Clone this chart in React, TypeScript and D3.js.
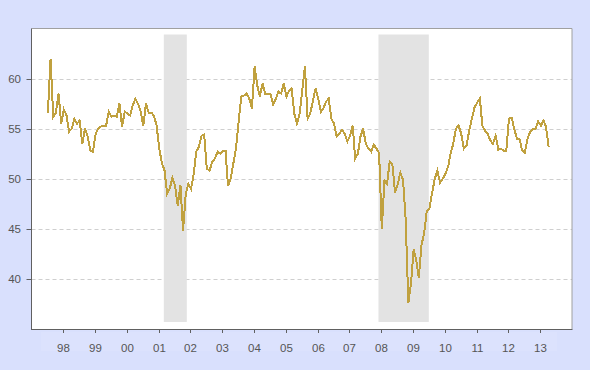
import React from 'react';
import * as d3 from 'd3';

// Monthly index values, starting July 1997
const v1997 = [56.6, 62.0, 56.2, 56.6, 58.5, 55.5];
const v1998 = [56.9, 56.3, 54.7, 55.0, 56.0, 55.5, 55.8, 53.5, 55.0, 54.2, 52.8, 52.7];
const v1999 = [54.5, 55.0, 55.2, 55.3, 55.3, 56.7, 56.2, 56.3, 56.2, 57.5, 55.2, 56.7];
const v2000 = [56.5, 56.3, 57.3, 58.0, 57.5, 56.7, 55.3, 57.5, 56.6, 56.6, 56.3, 55.3];
const v2001 = [53.0, 51.5, 50.9, 48.5, 49.0, 50.1, 49.3, 47.3, 49.4, 44.8, 48.5, 49.5];
const v2002 = [49.0, 50.5, 52.7, 53.2, 54.3, 54.4, 51.0, 50.8, 51.7, 52.0, 52.7, 52.5];
const v2003 = [52.8, 52.8, 49.3, 50.0, 51.5, 53.0, 55.7, 58.2, 58.3, 58.5, 58.0, 57.0];
const v2004 = [61.2, 59.3, 58.2, 59.5, 58.5, 58.5, 58.5, 57.4, 58.0, 58.7, 58.5, 59.5];
const v2005 = [58.2, 58.8, 59.0, 56.5, 55.5, 56.5, 58.8, 61.2, 56.0, 56.5, 57.8, 59.0];
const v2006 = [58.0, 56.7, 57.0, 57.7, 58.0, 56.0, 55.5, 54.2, 54.5, 54.9, 54.5, 53.7];
const v2007 = [54.3, 55.3, 52.0, 52.5, 54.2, 55.0, 53.5, 53.0, 52.7, 53.4, 53.0, 52.6];
const v2008 = [45.0, 49.8, 49.5, 51.7, 51.5, 48.6, 49.4, 50.6, 49.9, 46.0, 37.6, 39.5];
const v2009 = [43.0, 41.8, 40.1, 43.4, 44.5, 46.8, 47.0, 48.6, 50.0, 50.8, 49.6, 50.0];
const v2010 = [50.5, 51.2, 52.5, 53.5, 55.0, 55.3, 54.5, 53.0, 53.3, 54.8, 56.0, 57.1];
const v2011 = [57.6, 58.0, 55.3, 54.8, 54.5, 53.8, 53.5, 54.3, 52.9, 53.0, 52.8, 52.8];
const v2012 = [56.0, 56.1, 55.0, 54.0, 54.0, 52.8, 52.6, 54.0, 54.7, 55.0, 55.0, 55.7];
const v2013 = [55.3, 55.8, 55.2, 53.2];

const values = [
  ...v1997, ...v1998, ...v1999, ...v2000, ...v2001, ...v2002, ...v2003, ...v2004,
  ...v2005, ...v2006, ...v2007, ...v2008, ...v2009, ...v2010, ...v2011, ...v2012, ...v2013,
];

const tickYears = [1998, 1999, 2000, 2001, 2002, 2003, 2004, 2005, 2006, 2007, 2008, 2009, 2010, 2011, 2012, 2013];
const tickLabels = ['98', '99', '00', '01', '02', '03', '04', '05', '06', '07', '08', '09', '10', '11', '12', '13'];
const yTicks = [40, 45, 50, 55, 60];

const recessions: [Date, Date][] = [
  [new Date(2001, 2, 1), new Date(2001, 10, 20)],
  [new Date(2007, 11, 1), new Date(2009, 6, 1)],
];

const W = 590;
const H = 370;
const L = 31.5, R = 572, T = 28.5, B = 329;

export default function App() {
  const x = d3.scaleTime().domain([new Date(1997, 0, 1), new Date(2014, 0, 1)]).range([L, R]);
  const y = d3.scaleLinear().domain([35, 65]).range([B, T]);

  const data = values.map((v, i) => ({ d: new Date(1997, 6 + i, 8), v }));
  const line = d3.line<{ d: Date; v: number }>().x((p) => x(p.d)).y((p) => y(p.v));

  const font = "'Liberation Sans', Arial, sans-serif";

  return (
    <svg width={W} height={H} style={{ position: 'absolute', left: 0, top: 0, display: 'block' }}>
      <rect x={0} y={0} width={W} height={H} fill="#D9E0FD" />
      <rect x={41} y={332} width={516} height={19} fill="#DCE2FD" />
      <rect x={L} y={T} width={R - L} height={B - T} fill="#ffffff" />
      {yTicks.map((t) => (
        <line key={'g' + t} x1={L} x2={R} y1={Math.round(y(t)) + 0.5} y2={Math.round(y(t)) + 0.5}
          stroke="#CFCFCF" strokeWidth={1} strokeDasharray="4,3" />
      ))}
      {recessions.map(([a, b], i) => (
        <rect key={'r' + i} x={x(a)} width={x(b) - x(a)} y={y(64.4)} height={y(35.7) - y(64.4)} fill="#E3E3E3" />
      ))}
      <path d={line(data) || ''} fill="none" stroke="#C0A13F" strokeWidth={2} strokeLinejoin="miter"
        shapeRendering="crispEdges" />
      <line x1={L} x2={R} y1={T} y2={T} stroke="#A0A0A0" />
      <line x1={R} x2={R} y1={T} y2={B} stroke="#A0A0A0" />
      <line x1={L} x2={L} y1={T} y2={B + 0.5} stroke="#606060" />
      <line x1={L - 0.5} x2={R + 0.5} y1={B + 0.5} y2={B + 0.5} stroke="#606060" />
      {yTicks.map((t) => (
        <g key={'y' + t}>
          <line x1={L - 5} x2={L} y1={Math.round(y(t)) + 0.5} y2={Math.round(y(t)) + 0.5} stroke="#606060" />
          <text x={21} y={y(t) + 4} textAnchor="end" fontFamily={font} fontSize={11.5} fill="#555">{t}</text>
        </g>
      ))}
      {tickYears.map((yr, i) => {
        const px = Math.round(x(new Date(yr, 0, 1))) + 0.5;
        return (
          <g key={'x' + yr}>
            <line x1={px} x2={px} y1={B} y2={B + 4} stroke="#606060" />
            <text x={px} y={351.5} textAnchor="middle" fontFamily={font} fontSize={11.5} fill="#555">{tickLabels[i]}</text>
          </g>
        );
      })}
    </svg>
  );
}
